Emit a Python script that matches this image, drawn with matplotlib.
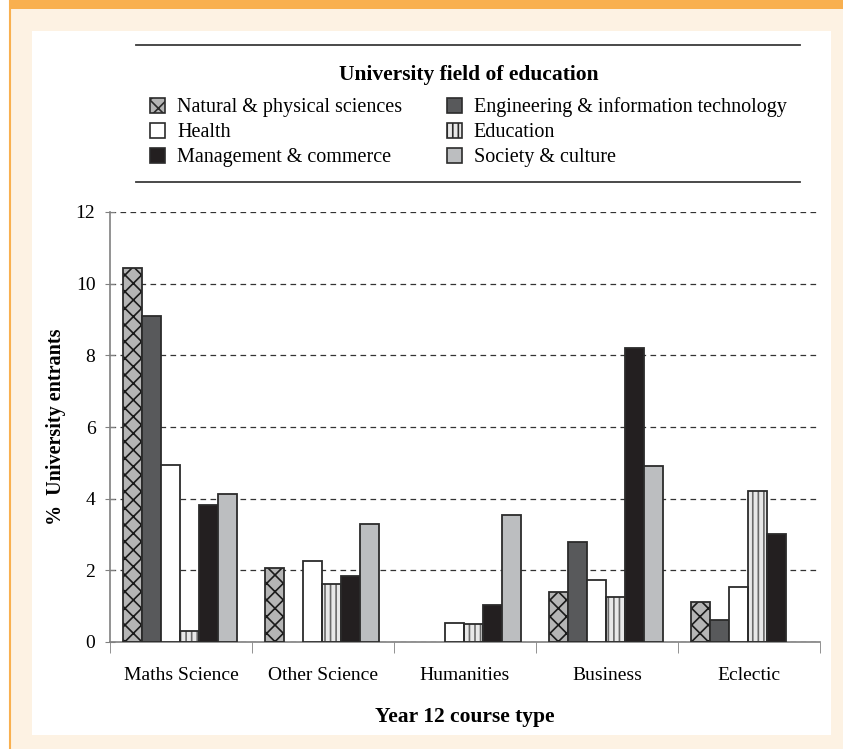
import numpy as np
import matplotlib
matplotlib.use('Agg')
import matplotlib.pyplot as plt
from matplotlib.patches import Rectangle, Patch
from matplotlib.lines import Line2D

plt.rcParams['font.family'] = ['Liberation Serif', 'DejaVu Serif']
plt.rcParams['hatch.linewidth'] = 1.2

# 数据
courses = ['Maths Science', 'Other Science', 'Humanities', 'Business', 'Eclectic']
fields = ['Natural & physical sciences', 'Engineering & information technology', 'Health',
          'Education', 'Management & commerce', 'Society & culture']
natural = [10.43, 2.06, 0, 1.39, 1.13]
engineering = [9.09, 0, 0, 2.80, 0.62]
health = [4.95, 2.25, 0.52, 1.73, 1.53]
education = [0.32, 1.62, 0.49, 1.25, 4.21]
management = [3.81, 1.85, 1.02, 8.20, 3.02]
society = [4.12, 3.29, 3.54, 4.91, 0]
yticks = [0, 2, 4, 6, 8, 10, 12]

series = [natural, engineering, health, education, management, society]
faces = ['#b5b5b5', '#58595b', '#ffffff', '#e8e8e8', '#231f20', '#bcbec0']
hatches = ['xx', None, None, '|||', None, None]
hatch_cols = ['#1a1a1a', None, None, '#6a6a6a', None, None]
edge = '#2b2b2b'

fig = plt.figure(figsize=(8.43, 7.49), dpi=100)
fig.patch.set_facecolor('white')
# 背景框
fig.add_artist(Rectangle((10/843, 0), 1, 1, transform=fig.transFigure, facecolor='#fdf2e3', edgecolor='none', zorder=-10))
fig.add_artist(Rectangle((32/843, 1-735/749), (831-32)/843, (735-31)/749, transform=fig.transFigure,
                         facecolor='white', edgecolor='none', zorder=-9))
fig.add_artist(Rectangle((9/843, 1-9/749), 1, 9/749, transform=fig.transFigure, facecolor='#f9b04f', edgecolor='none', zorder=-8))
fig.add_artist(Line2D([10/843, 10/843], [0, 1], transform=fig.transFigure, color='#f9b04f', lw=1.5, zorder=-8))

ax = fig.add_axes([110/843, 1-642/749, (820-110)/843, (642-212)/749])
ax.set_facecolor('none')

x = np.arange(len(courses))
w = 0.1345
off = 0.0894
for i, vals in enumerate(series):
    vals = np.array(vals)
    pos = x + off + (i + 0.5) * w
    m = vals > 0   # 0值不画
    if hatches[i]:
        ax.bar(pos[m], vals[m], w, color=faces[i], edgecolor=hatch_cols[i], hatch=hatches[i], linewidth=0, zorder=2)
        ax.bar(pos[m], vals[m], w, fill=False, edgecolor=edge, linewidth=1.3, zorder=3)
    else:
        ax.bar(pos[m], vals[m], w, color=faces[i], edgecolor=edge, linewidth=1.3, zorder=3)

ax.set_xlim(0, 5)
ax.set_ylim(0, 12)
ax.set_yticks(yticks)
ax.set_yticklabels([str(t) for t in yticks], fontsize=14)
ax.yaxis.grid(True, linestyle=(0, (4.5, 3.5)), color='#333333', linewidth=0.9)
ax.set_axisbelow(True)
ax.tick_params(axis='y', length=7, color='#808080', direction='inout', pad=7)
ax.set_xticks(x + 0.5)
ax.set_xticklabels(courses, fontsize=14)
ax.set_xticks(np.arange(6), minor=True)
ax.tick_params(axis='x', which='major', length=0, pad=18)
ax.tick_params(axis='x', which='minor', length=8, color='#808080', direction='out')
for s in ['top', 'right']:
    ax.spines[s].set_visible(False)
for s in ['left', 'bottom']:
    ax.spines[s].set_color('#808080')
    ax.spines[s].set_linewidth(1.2)
ax.set_ylabel('%  University entrants', fontsize=14.5, fontweight='bold')
ax.yaxis.set_label_coords(-(110-66)/710, 0.5)
ax.set_xlabel('Year 12 course type', fontsize=15.5, fontweight='bold')
ax.xaxis.set_label_coords(0.5, -(707-642)/430)

# 图例
order = [0, 2, 4, 1, 3, 5]
handles = []
for i in order:
    if hatches[i]:
        handles.append(Patch(facecolor=faces[i], edgecolor=edge, hatch=hatches[i], linewidth=1.2))
    else:
        handles.append(Patch(facecolor=faces[i], edgecolor=edge, linewidth=1.2))
leg = fig.legend(handles, [fields[i] for i in order], ncol=2, loc='upper left',
                 bbox_to_anchor=(140/843, 1-55/749), frameon=False, fontsize=14.5, borderpad=0,
                 handlelength=0.75, handleheight=0.75, handletextpad=0.6, columnspacing=2.2,
                 labelspacing=0.27, title='University field of education',
                 title_fontproperties={'weight': 'bold', 'size': 15.5})
leg._legend_box.sep = 9
for yy in [45, 182]:
    fig.add_artist(Line2D([136/843, 800/843], [1-yy/749, 1-yy/749], transform=fig.transFigure, color='#3a3a3a', lw=1.3))

fig.savefig('out.png', dpi=100)
